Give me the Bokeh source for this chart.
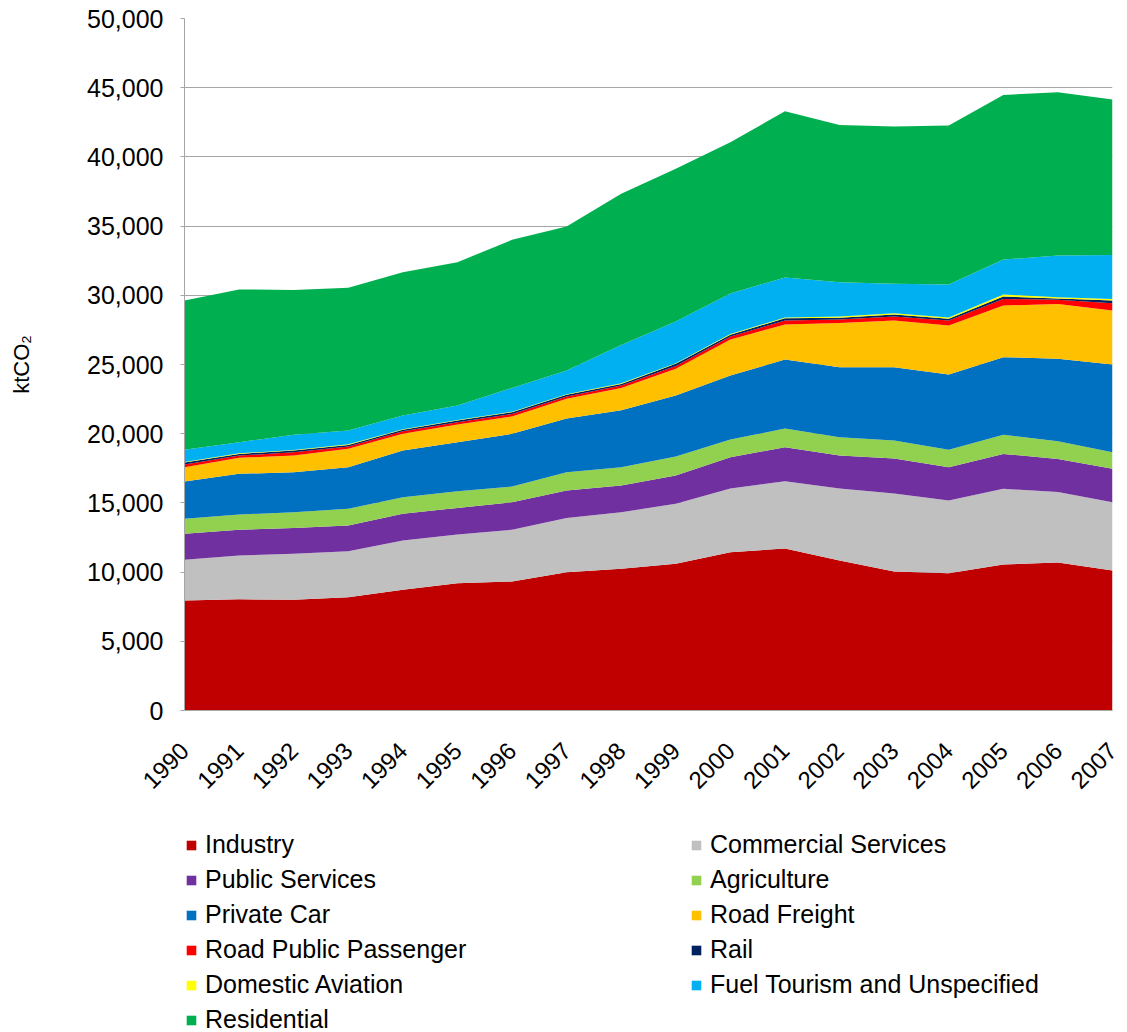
import math
from bokeh.plotting import figure
from bokeh.layouts import column
from bokeh.models import (ColumnDataSource, Range1d, Legend, LegendItem,
                          NumeralTickFormatter, FixedTicker)
from bokeh.embed import file_html
from bokeh.resources import INLINE

years = [1990, 1991, 1992, 1993, 1994, 1995, 1996, 1997, 1998,
         1999, 2000, 2001, 2002, 2003, 2004, 2005, 2006, 2007]

industry = [7950, 8040, 8000, 8190, 8720, 9200, 9320, 9990, 10240,
            10600, 11440, 11700, 10840, 10040, 9920, 10550, 10690, 10110]
commercial = [2940, 3160, 3320, 3320, 3560, 3520, 3740, 3920, 4090,
              4330, 4600, 4870, 5200, 5640, 5250, 5470, 5090, 4940]
public = [1880, 1860, 1860, 1860, 1930, 1920, 1990, 1990, 1930,
          2050, 2260, 2450, 2380, 2530, 2410, 2520, 2400, 2410]
agriculture = [1080, 1100, 1150, 1200, 1200, 1200, 1130, 1320, 1320,
               1370, 1280, 1350, 1330, 1300, 1260, 1380, 1280, 1200]
private_car = [2700, 2940, 2890, 3010, 3380, 3550, 3810, 3880, 4120,
               4410, 4620, 4990, 5050, 5290, 5440, 5610, 5950, 6340]
road_freight = [1030, 1160, 1200, 1330, 1200, 1270, 1260, 1420, 1610,
                1930, 2600, 2530, 3190, 3380, 3540, 3730, 3970, 3900]
road_public = [190, 160, 240, 160, 190, 170, 180, 170, 170,
               210, 220, 290, 260, 290, 360, 480, 290, 530]
rail = [150, 120, 130, 120, 110, 120, 120, 120, 120,
        150, 130, 160, 130, 140, 130, 170, 100, 190]
aviation = [40, 40, 40, 40, 40, 40, 40, 40, 40,
            40, 50, 60, 90, 100, 90, 150, 90, 120]
fuel_tourism = [880, 810, 1090, 1000, 980, 1050, 1720, 1720, 2760,
                3010, 2930, 2890, 2480, 2120, 2380, 2520, 3010, 3180]
residential = [10780, 11030, 10470, 10310, 10360, 10350, 10700, 10400, 10930,
               11040, 10930, 12010, 11360, 11360, 11480, 11900, 11800, 11220]

y_ticks = [0, 5000, 10000, 15000, 20000, 25000, 30000, 35000, 40000, 45000, 50000]

series_keys = ["industry", "commercial", "public", "agriculture", "private_car",
               "road_freight", "road_public", "rail", "aviation", "fuel_tourism",
               "residential"]
series_labels = ["Industry", "Commercial Services", "Public Services", "Agriculture",
                 "Private Car", "Road Freight", "Road Public Passenger", "Rail",
                 "Domestic Aviation", "Fuel Tourism and Unspecified", "Residential"]
series_colors = ["#C00000", "#C0C0C0", "#7030A0", "#92D050", "#0070C0", "#FFC000",
                 "#FF0000", "#002060", "#FFFF00", "#00B0F0", "#00B050"]

src = ColumnDataSource(dict(
    year=years, industry=industry, commercial=commercial, public=public,
    agriculture=agriculture, private_car=private_car, road_freight=road_freight,
    road_public=road_public, rail=rail, aviation=aviation,
    fuel_tourism=fuel_tourism, residential=residential))

FONT = "Liberation Sans"

# ---------------- main chart ----------------
p = figure(frame_width=928, frame_height=692, output_backend="svg",
           toolbar_location=None, x_range=Range1d(1990, 2007),
           y_range=Range1d(0, 50000), min_border_left=184, min_border_top=18,
           min_border_right=10, min_border_bottom=110)

renderers = p.varea_stack(stackers=series_keys, x="year", source=src,
                          fill_color=series_colors)

p.outline_line_color = None
p.background_fill_color = "white"
p.xgrid.visible = False
p.ygrid.grid_line_color = "#a6a6a6"
p.ygrid.grid_line_width = 1

p.yaxis.ticker = FixedTicker(ticks=y_ticks)
p.yaxis.formatter = NumeralTickFormatter(format="0,0")
p.yaxis.axis_line_color = "#a6a6a6"
p.yaxis.major_tick_line_color = "#a6a6a6"
p.yaxis.major_tick_in = 0
p.yaxis.major_tick_out = 4
p.yaxis.minor_tick_line_color = None
p.yaxis.major_label_standoff = 17
p.yaxis.major_label_text_font = FONT
p.yaxis.major_label_text_font_size = "25px"
p.yaxis.major_label_text_color = "black"
p.yaxis.axis_label = "ktCO\u2082"
p.yaxis.axis_label_text_font = FONT
p.yaxis.axis_label_text_font_size = "22px"
p.yaxis.axis_label_text_font_style = "normal"
p.yaxis.axis_label_text_color = "black"
p.yaxis.axis_label_standoff = 50

p.xaxis.ticker = FixedTicker(ticks=years)
p.xaxis.axis_line_color = "#a6a6a6"
p.xaxis.major_tick_in = 0
p.xaxis.major_tick_out = 0
p.xaxis.minor_tick_line_color = None
p.xaxis.major_label_orientation = math.pi / 4
p.xaxis.major_label_standoff = 36
p.xaxis.major_label_text_font = FONT
p.xaxis.major_label_text_font_size = "24px"
p.xaxis.major_label_text_color = "black"

# ---------------- legend panel ----------------
lg = figure(width=1122, height=212, output_backend="svg", toolbar_location=None,
            x_range=Range1d(0, 1), y_range=Range1d(0, 1),
            x_axis_type=None, y_axis_type=None,
            min_border_left=0, min_border_right=0, min_border_top=0,
            min_border_bottom=0)
lg.outline_line_color = None
lg.xgrid.visible = False
lg.ygrid.visible = False

# same stacked layers, outside the legend panel's view, used as legend keys
proxies = lg.varea_stack(stackers=series_keys, x="year", source=src,
                         fill_color=series_colors)

items = [LegendItem(label=lab, renderers=[r]) for lab, r in zip(series_labels, proxies)]
left_items = items[0::2]
right_items = items[1::2]

common = dict(orientation="vertical", glyph_width=12, glyph_height=12,
              label_standoff=8, spacing=6, padding=0, margin=0,
              label_text_font=FONT, label_text_font_size="25px",
              label_text_color="black", border_line_color=None,
              background_fill_alpha=0)

leg1 = Legend(items=left_items, location=(1, -2), **common)
leg2 = Legend(items=right_items, location=(506, 33), **common)
lg.add_layout(leg1, "center")
lg.add_layout(leg2, "center")

layout = column(p, lg, spacing=0)
open("out.html", "w").write(file_html(layout, INLINE))
